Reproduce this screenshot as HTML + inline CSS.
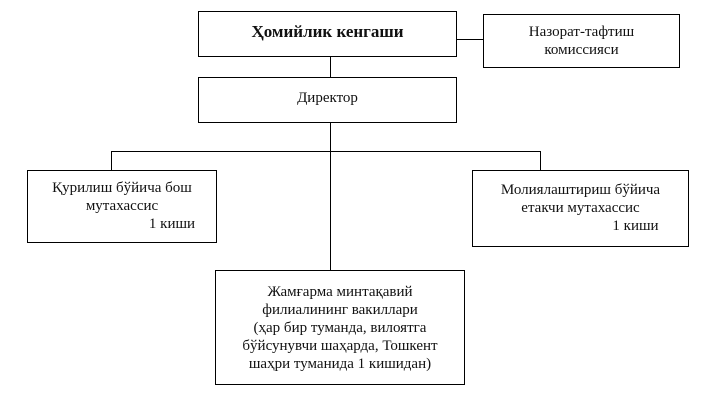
<!DOCTYPE html>
<html><head><meta charset="utf-8"><style>
body{margin:0;width:723px;height:403px;background:#fff;position:relative;font-family:"Liberation Serif",serif;color:#111;overflow:hidden}
.b{position:absolute;border:1px solid #000;box-sizing:border-box;text-align:center;font-size:15px;line-height:18px}
.l{position:absolute;background:#000}
</style></head><body>
<div class="b" style="left:198px;top:11px;width:259px;height:46px;font-weight:bold;font-size:17px;line-height:40px">Ҳомийлик кенгаши</div>
<div class="b" style="left:483px;top:14px;width:197px;height:54px;padding-top:8px">Назорат-тафтиш<br>комиссияси</div>
<div class="l" style="left:456px;top:39px;width:27px;height:1px"></div>
<div class="l" style="left:330px;top:56px;width:1px;height:21px"></div>
<div class="b" style="left:198px;top:77px;width:259px;height:46px;padding-top:11px">Директор</div>
<div class="l" style="left:330px;top:122px;width:1px;height:148px"></div>
<div class="l" style="left:111px;top:151px;width:430px;height:1px"></div>
<div class="l" style="left:111px;top:151px;width:1px;height:19px"></div>
<div class="l" style="left:540px;top:151px;width:1px;height:19px"></div>
<div class="b" style="left:27px;top:170px;width:190px;height:73px;padding-top:8px">Қурилиш бўйича бош<br>мутахассис<br><span style="padding-left:100px">1 киши</span></div>
<div class="b" style="left:472px;top:170px;width:217px;height:77px;padding-top:10px">Молиялаштириш бўйича<br>етакчи мутахассис<br><span style="padding-left:110px">1 киши</span></div>
<div class="b" style="left:215px;top:270px;width:250px;height:115px;padding-top:12px">Жамғарма минтақавий<br>филиалининг вакиллари<br>(ҳар бир туманда, вилоятга<br>бўйсунувчи шаҳарда, Тошкент<br>шаҳри туманида 1 кишидан)</div>
</body></html>
